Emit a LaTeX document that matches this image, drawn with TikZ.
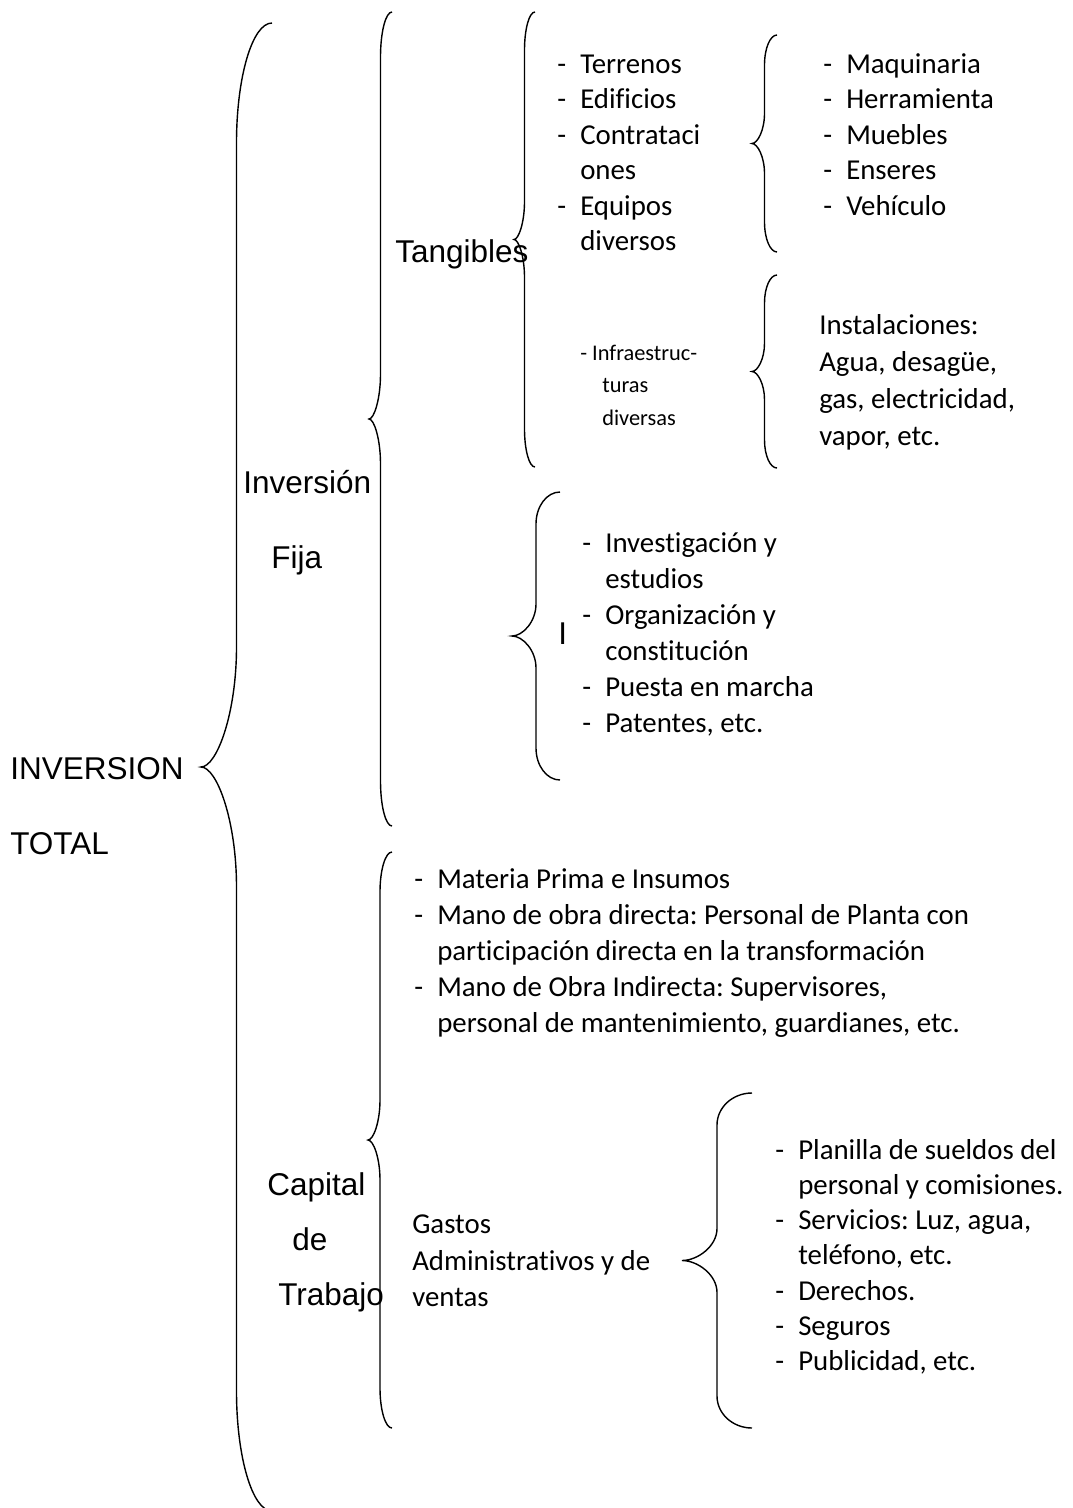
\documentclass[tikz,border=0pt]{standalone}
\usepackage{fontspec}
\setmainfont{Carlito}[Ligatures=NoCommon]
\newfontfamily\arialfont{Liberation Sans}
\usepackage{tikz}
\usetikzlibrary{positioning}
\frenchspacing

\newcommand{\guion}{\makebox[0.575cm][l]{-}}

\tikzset{
  bracepen/.style={line width=1pt, color=black},
  rotulo/.style={font=\arialfont\fontsize{22.4}{27}\selectfont, anchor=base west, inner sep=0pt},
  item/.style={font=\fontsize{20.5}{25}\selectfont, anchor=base west, inner sep=0pt},
  itemsmall/.style={font=\fontsize{15.9}{19}\selectfont, anchor=base west, inner sep=0pt},
  % word-like curly brace, origin at the tip: half width, half height, end radius
  pics/llave/.style n args={3}{code={
    \draw[bracepen] ({2*#1},{-#2}) .. controls ({1.448*#1},{-#2}) and ({#1},{-#2+0.448*#3}) .. ({#1},{-#2+#3})
      -- ({#1},{-#3}) .. controls ({#1},{-0.448*#3}) and ({0.448*#1},0) .. (0,0)
      .. controls ({0.448*#1},0) and ({#1},{0.448*#3}) .. ({#1},{#3})
      -- ({#1},{#2-#3}) .. controls ({#1},{#2-0.448*#3}) and ({1.448*#1},{#2}) .. ({2*#1},{#2});
  }}
}

\begin{document}
\begin{tikzpicture}[x=0.025cm, y=-0.025cm]
  \useasboundingbox[fill=white] (0,0) rectangle (1073,1508);

  % Braces
  \pic (llaveTotal) at (201,767) {llave={35.5}{744}{120}};
  \pic (llaveFija) at (369,419) {llave={11.5}{407}{45}};
  \pic (llaveCapital) at (368,1140) {llave={12}{288}{40}};
  \pic (llaveTang) at (514,239.5) {llave={10.5}{227.5}{38}};
  \pic (llaveMaq) at (752,143.5) {llave={12.5}{108.5}{30}};
  \pic (llaveInst) at (752,371.5) {llave={12.5}{96.5}{28}};
  \pic (llaveIntang) at (512,636) {llave={24}{144}{32}};
  \pic (llaveGastos) at (682,1260.5) {llave={35}{167.5}{32}};

  % Main labels
  \node[rotulo] (inv) at (10,779) {INVERSION};
  \node[rotulo] (total) at (10,854) {TOTAL};
  \node[rotulo] (invfija) at (243,493) {Inversión};
  \node[rotulo] (fija) at (271,568) {Fija};
  \node[rotulo] (tang) at (395,262) {Tangibles};
  \node[rotulo] (intang) at (558,644) {I};
  \node[rotulo] (capital) at (267,1195) {Capital};
  \node[rotulo] (de) at (292,1250) {de};
  \node[rotulo] (trabajo) at (278,1305) {Trabajo};

  % Tangibles
  \node[item] (terrenos) at (557,73) {\guion Terrenos};
  \node[item] (edificios) at (557,108.5) {\guion Edificios};
  \node[item] (contrat) at (557,144) {\guion Contrataci};
  \node[item] (contrat2) at (580,179.5) {ones};
  \node[item] (equipos) at (557,215) {\guion Equipos};
  \node[item] (equipos2) at (580,250.5) {diversos};

  \node[item] (maq) at (823,73) {\guion Maquinaria};
  \node[item] (herr) at (823,108.5) {\guion Herramienta};
  \node[item] (muebles) at (823,144) {\guion Muebles};
  \node[item] (enseres) at (823,179.5) {\guion Enseres};
  \node[item] (vehiculo) at (823,215) {\guion Vehículo};

  \node[itemsmall] (infra) at (580,360) {- Infraestruc-};
  \node[itemsmall] (infra2) at (602,392.5) {turas};
  \node[itemsmall] (infra3) at (602,425) {diversas};

  \node[item] (inst) at (819,334) {Instalaciones:};
  \node[item] (inst2) at (819,371) {Agua, desagüe,};
  \node[item] (inst3) at (819,408) {gas, electricidad,};
  \node[item] (inst4) at (819,445) {vapor, etc.};

  % Intangibles
  \node[item] (investig) at (582,552) {\guion Investigación y};
  \node[item] (investig2) at (605,588) {estudios};
  \node[item] (organiz) at (582,624) {\guion Organización y};
  \node[item] (organiz2) at (605,660) {constitución};
  \node[item] (puesta) at (582,696) {\guion Puesta en marcha};
  \node[item] (patentes) at (582,732) {\guion Patentes, etc.};

  % Capital de trabajo
  \node[item] (materia) at (414,888) {\guion Materia Prima e Insumos};
  \node[item] (mod) at (414,924) {\guion Mano de obra directa: Personal de Planta con};
  \node[item] (mod2) at (437,960) {participación directa en la transformación};
  \node[item] (moi) at (414,996) {\guion Mano de Obra Indirecta: Supervisores,};
  \node[item] (moi2) at (437,1032) {personal de mantenimiento, guardianes, etc.};

  \node[item] (gastos) at (412,1233) {Gastos};
  \node[item] (gastos2) at (412,1270) {Administrativos y de};
  \node[item] (gastos3) at (412,1306) {ventas};

  \node[item] (planilla) at (775,1159) {\guion Planilla de sueldos del};
  \node[item] (planilla2) at (798,1194.3) {personal y comisiones.};
  \node[item] (servicios) at (775,1229.6) {\guion Servicios: Luz, agua,};
  \node[item] (servicios2) at (798,1264.9) {teléfono, etc.};
  \node[item] (derechos) at (775,1300.2) {\guion Derechos.};
  \node[item] (seguros) at (775,1335.5) {\guion Seguros};
  \node[item] (publicidad) at (775,1370.8) {\guion Publicidad, etc.};
\end{tikzpicture}
\end{document}
